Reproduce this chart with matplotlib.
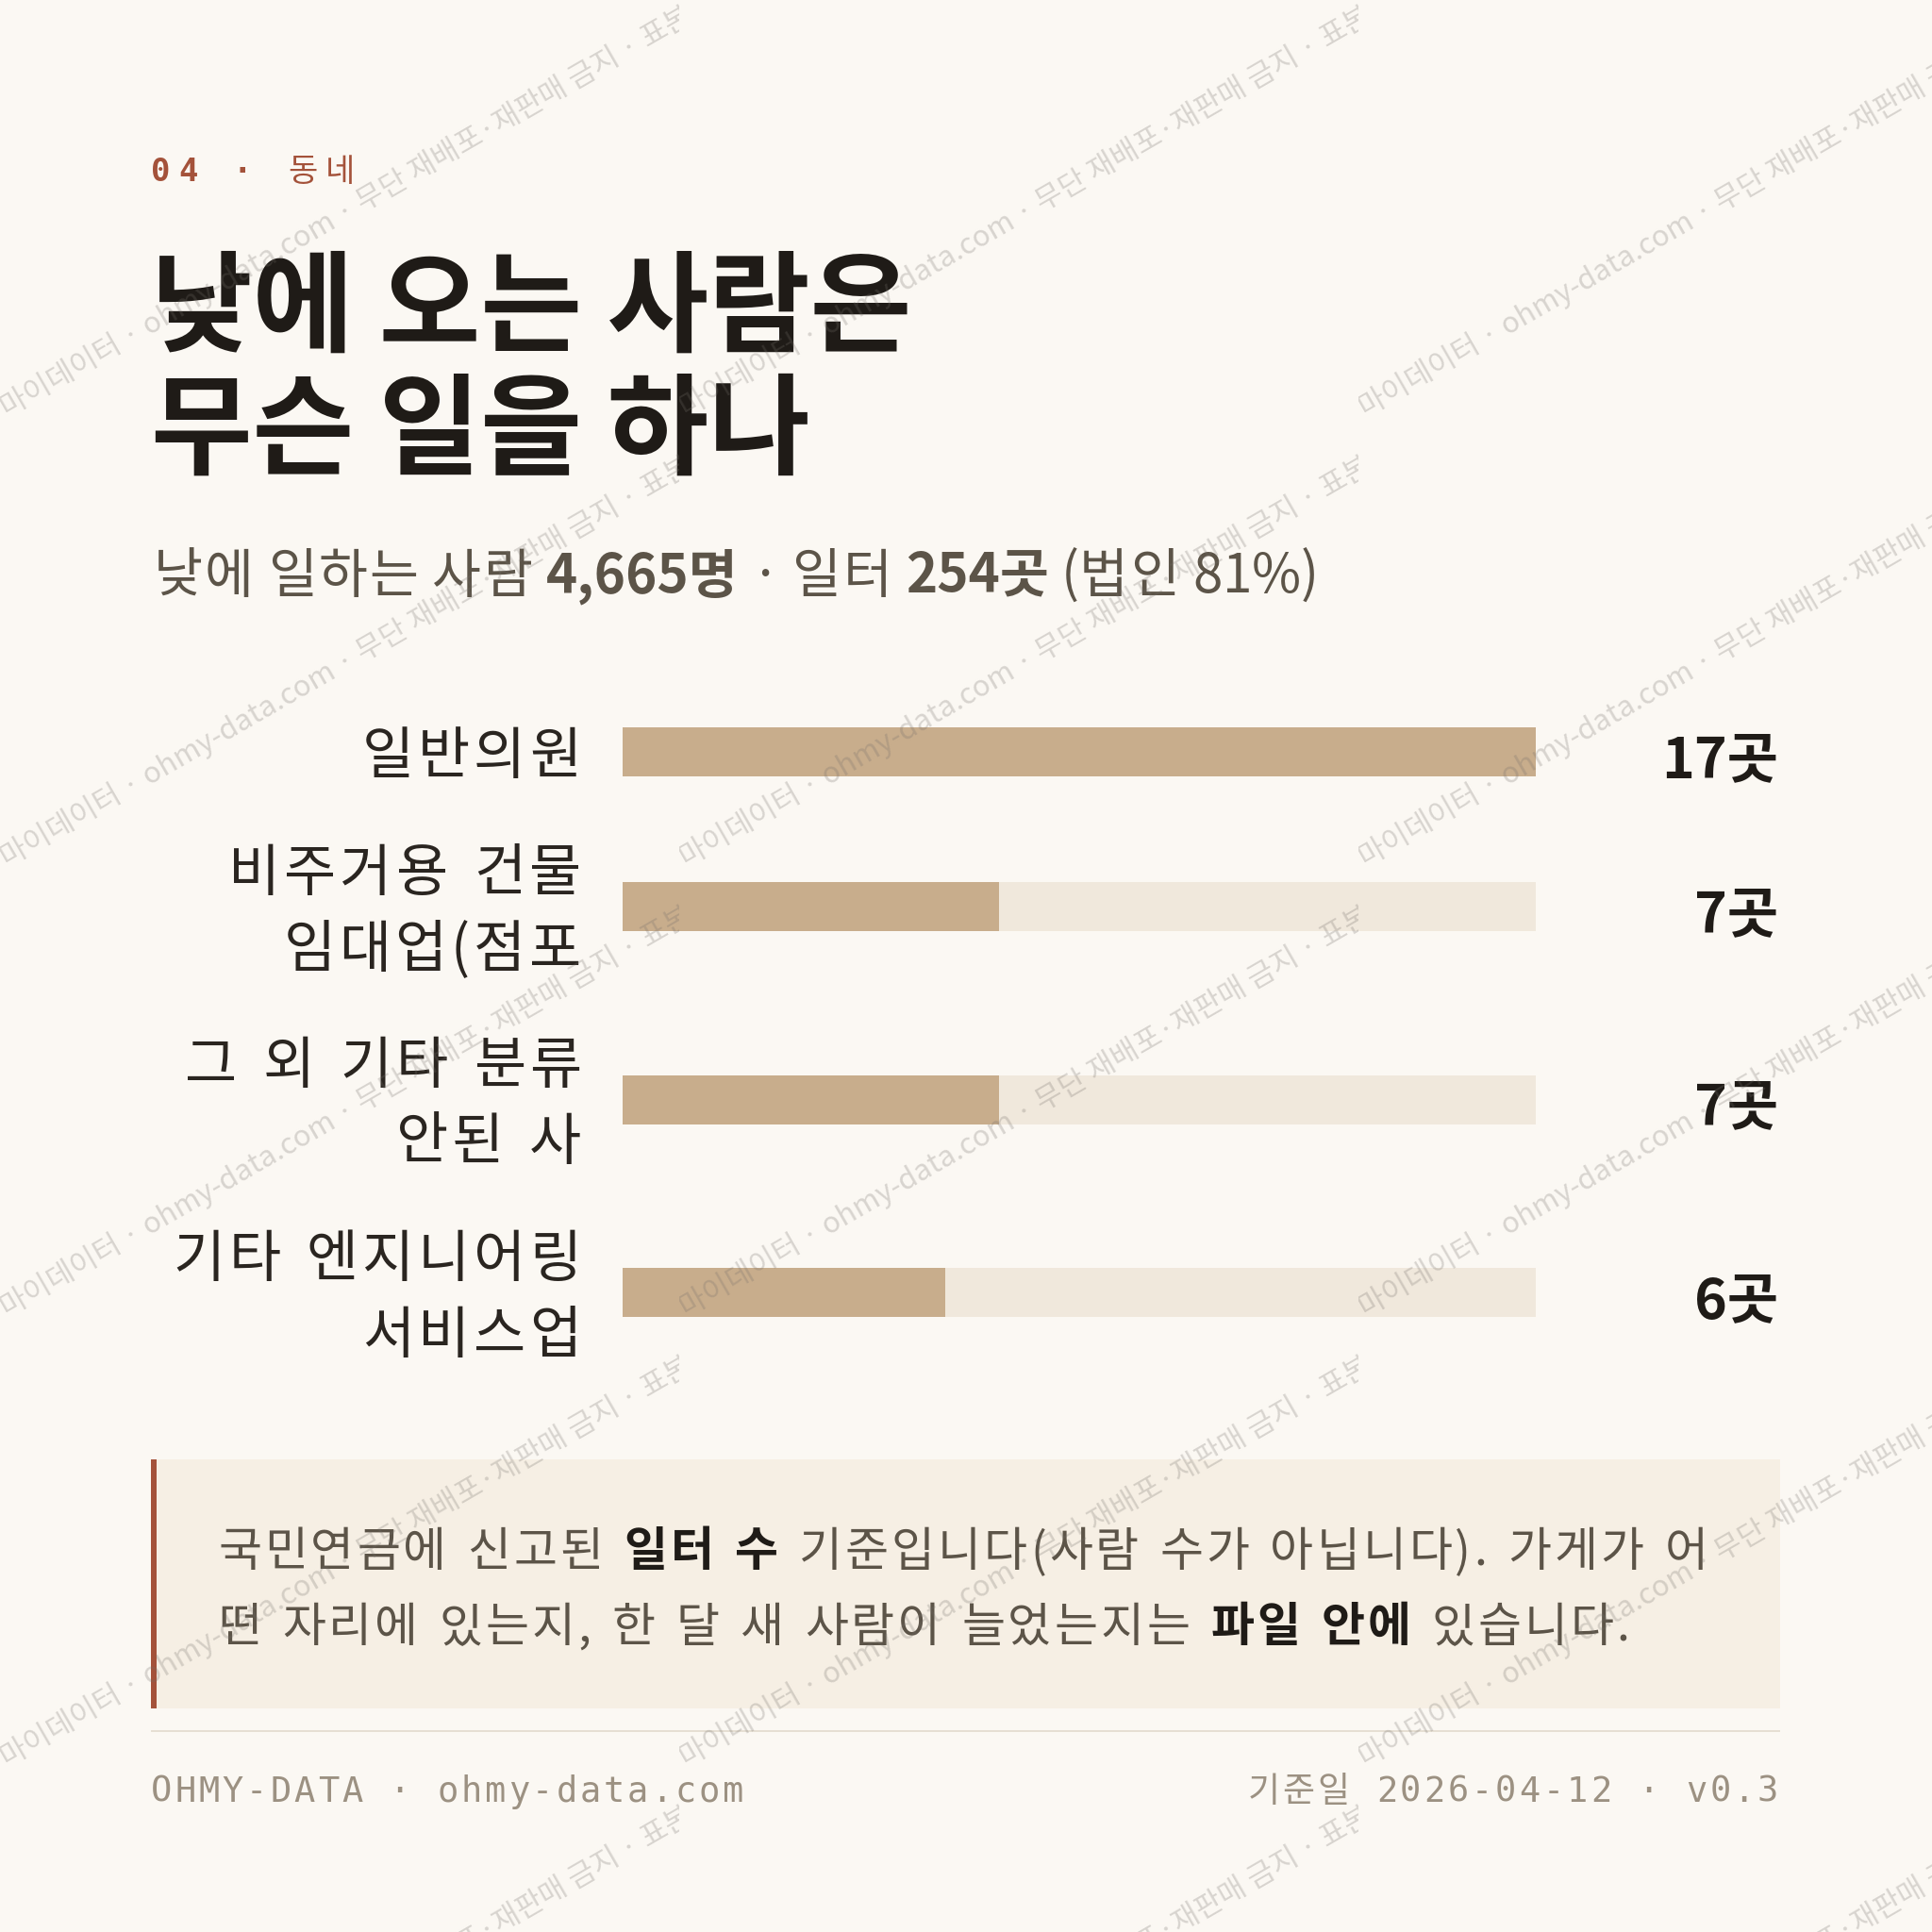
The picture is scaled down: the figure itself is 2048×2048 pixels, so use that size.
import matplotlib
matplotlib.use('Agg')
import matplotlib.pyplot as plt
from matplotlib.patches import Rectangle
from matplotlib.transforms import Bbox, TransformedBbox

# ---------------- data ----------------
categories = ["일반의원", "비주거용 건물\n임대업(점포", "그 외 기타 분류\n안된 사", "기타 엔지니어링\n서비스업"]
counts = [17, 7, 7, 6]
unit = "곳"
kicker = "04 · 동네"
title_lines = ["낮에 오는 사람은", "무슨 일을 하나"]
subtitle_parts = [("낮에 일하는 사람 ", False), ("4,665명", True), (" · 일터 ", False),
                  ("254곳", True), (" (법인 81%)", False)]
note_line1 = [("국민연금에 신고된 ", False), ("일터 수", True),
              (" 기준입니다(사람 수가 아닙니다). 가게가 어", False)]
note_line2 = [("떤 자리에 있는지, 한 달 새 사람이 늘었는지는 ", False), ("파일 안에", True),
              (" 있습니다.", False)]
footer_left = "OHMY-DATA · ohmy-data.com"
footer_right = "기준일 2026-04-12 · v0.3"
watermark = "· 마이데이터 · ohmy-data.com · 무단 재배포·재판매 금지 · 표본 "

# ---------------- style ----------------
BG = "#fbf8f3"
ACCENT = "#a4523a"
INK = "#1f1b17"
MUTED = "#5c5448"
LABEL = "#2a2520"
FOOT = "#9c9182"
BAR = "#c8ad8c"
TRACK = "#f0e8dc"
NOTE_BG = "#f6efe4"
RULE = "#e6dfd3"
KR = ["Noto Sans CJK KR", "DejaVu Sans"]
MONO = ["DejaVu Sans Mono", "Noto Sans CJK KR"]
LIGHT = 350
PX = 0.72  # points per pixel at dpi=100

W = H = 2048
fig = plt.figure(figsize=(W / 100, H / 100), dpi=100)
fig.patch.set_facecolor(BG)
ax = fig.add_axes([0, 0, 1, 1])
ax.set_xlim(0, W)
ax.set_ylim(H, 0)
ax.axis('off')
R = fig.canvas.get_renderer()

_wcache = {}


def width(s, **kw):
    key = (s, repr(sorted(kw.items())))
    if key in _wcache:
        return _wcache[key]
    t1 = ax.text(0, 0, "|" + s + "|", **kw)
    t2 = ax.text(0, 0, "||", **kw)
    w = t1.get_window_extent(R).width - t2.get_window_extent(R).width
    t1.remove()
    t2.remove()
    _wcache[key] = w
    return w


def is_hangul(c):
    return ord(c) >= 0x1100


def ls_width(s, kw, ls, sp):
    w = 0
    for c in s:
        w += (sp if c == ' ' else width(c, **kw)) + ls
    return w


def draw_ls(x, y, s, kw, ls, sp, hangul_only=False, zorder=5):
    for c in s:
        step = ls if (not hangul_only or is_hangul(c)) else 0
        if c == ' ':
            x += sp + step
        else:
            ax.text(x, y, c, ha='left', va='baseline', zorder=zorder, **kw)
            x += width(c, **kw) + step
    return x


def draw_seg(x, y, s, kw, sp, zorder=5):
    words = s.split(' ')
    for i, w in enumerate(words):
        if w:
            ax.text(x, y, w, ha='left', va='baseline', zorder=zorder, **kw)
            x += width(w, **kw)
        if i < len(words) - 1:
            x += sp
    return x


def rich(x, y, parts, size_px, color, bold_color, ls_em, sp_em, bold_ls=True,
         hangul_only=False, weight=LIGHT):
    for s, bold in parts:
        kw = dict(fontsize=size_px * PX, family=KR,
                  fontweight='bold' if bold else weight,
                  color=bold_color if bold else color)
        sp = sp_em * size_px if sp_em is not None else width(' ', **kw)
        if bold and not bold_ls:
            x = draw_seg(x, y, s, kw, sp)
        else:
            x = draw_ls(x, y, s, kw, ls_em * size_px, sp, hangul_only=hangul_only)
    return x


def spaced(x, y, text, size_px, ls, color, ha='left', mono_weight='normal'):
    items = []
    for c in text:
        if is_hangul(c):
            kw = dict(fontsize=size_px * PX, family=KR, color=color, fontweight=LIGHT)
        else:
            kw = dict(fontsize=size_px * PX, family=MONO, color=color, fontweight=mono_weight)
        items.append((c, kw, width(c, **kw)))
    total = sum(w for _, _, w in items) + ls * (len(items) - 1)
    if ha == 'right':
        x -= total
    for c, kw, w in items:
        if c != ' ':
            ax.text(x, y, c, ha='left', va='baseline', zorder=5, **kw)
        x += w + ls


# ---------------- header ----------------
LEFT = 160
RIGHT = 1887
spaced(LEFT, 192, kicker, 34, 8.5, ACCENT, mono_weight='bold')

TS = 117
for i, line in enumerate(title_lines):
    ax.text(LEFT, 364 + i * 130, line, ha='left', va='baseline',
            fontsize=TS * PX, family=KR, fontweight='bold', color=INK)

rich(LEFT + 3, 628, subtitle_parts, 56.5, MUTED, MUTED, 0.035, None,
     bold_ls=False, hangul_only=True)

# ---------------- bars ----------------
LINE_H = 81
GAP = 42.5
TOP = 756.5
lines = [c.split("\n") for c in categories]
centers = []
y = TOP
for ls_ in lines:
    h = LINE_H * len(ls_)
    centers.append(y + h / 2)
    y += h + GAP

BAR_X0, BAR_X1 = 660, 1628
Y0, Y1 = 740, 1420
bax = fig.add_axes([BAR_X0 / W, 1 - Y1 / H, (BAR_X1 - BAR_X0) / W, (Y1 - Y0) / H])
bax.set_xlim(0, max(counts))
bax.set_ylim(Y1, Y0)
bax.axis('off')
bax.patch.set_alpha(0)
bax.barh(centers, [max(counts)] * len(counts), height=52, color=TRACK, zorder=1)
bax.barh(centers, counts, height=52, color=BAR, zorder=2)

LSZ = 60
lkw = dict(fontsize=LSZ * PX, family=KR, color=LABEL, fontweight=LIGHT)
lls, lsp = 0.066 * LSZ, 0.32 * LSZ
for c, ls_ in zip(centers, lines):
    n = len(ls_)
    for k, s in enumerate(ls_):
        ink_c = c + (k - (n - 1) / 2) * LINE_H
        x0 = 616 - (ls_width(s, lkw, lls, lsp) - lls)
        draw_ls(x0, ink_c + 0.385 * LSZ, s, lkw, lls, lsp)

VS = 59
for c, v in zip(centers, counts):
    ax.text(1885, c + 0.46 * VS, f"{v}{unit}", ha='right', va='baseline',
            fontsize=VS * PX, family=KR, fontweight='bold', color=INK)

# ---------------- note box ----------------
ax.add_patch(Rectangle((LEFT, 1547), RIGHT - LEFT, 264, facecolor=NOTE_BG,
                       edgecolor='none', zorder=1))
ax.add_patch(Rectangle((LEFT, 1547), 6, 264, facecolor=ACCENT, edgecolor='none', zorder=2))
rich(231, 1660, note_line1, 50, MUTED, INK, 0.061, 0.32)
rich(231, 1740, note_line2, 50, MUTED, INK, 0.061, 0.32)

# ---------------- footer ----------------
ax.plot([LEFT, RIGHT], [1835, 1835], color=RULE, lw=2 * PX, solid_capstyle='butt')
spaced(LEFT, 1910, footer_left, 37, 3.0, FOOT)
spaced(1885, 1910, footer_right, 37, 3.0, FOOT, ha='right')

# ---------------- watermark (overlay) ----------------
wax = fig.add_axes([0, 0, 1, 1])
wax.set_xlim(0, W)
wax.set_ylim(H, 0)
wax.axis('off')
wax.patch.set_alpha(0)
TILE_W, TILE_H = 720, 477
wkw = dict(fontsize=31 * PX, family=KR, color=(0.45, 0.43, 0.41), alpha=0.26)
dot_w = width("· ", **dict(fontsize=31 * PX, family=KR))
for col in range(3):
    x0 = col * TILE_W
    clip = TransformedBbox(Bbox([[x0, 0], [x0 + TILE_W, H]]), wax.transData)
    for row in range(-1, 5):
        ys = 443 + row * TILE_H
        t = wax.text(x0 + 8 - dot_w * 0.866, ys + dot_w * 0.5, watermark,
                     rotation=30, rotation_mode='anchor',
                     ha='left', va='baseline', zorder=20, **wkw)
        t.set_clip_box(clip)
        t.set_clip_on(True)

fig.savefig("out.png", dpi=100, facecolor=BG)
